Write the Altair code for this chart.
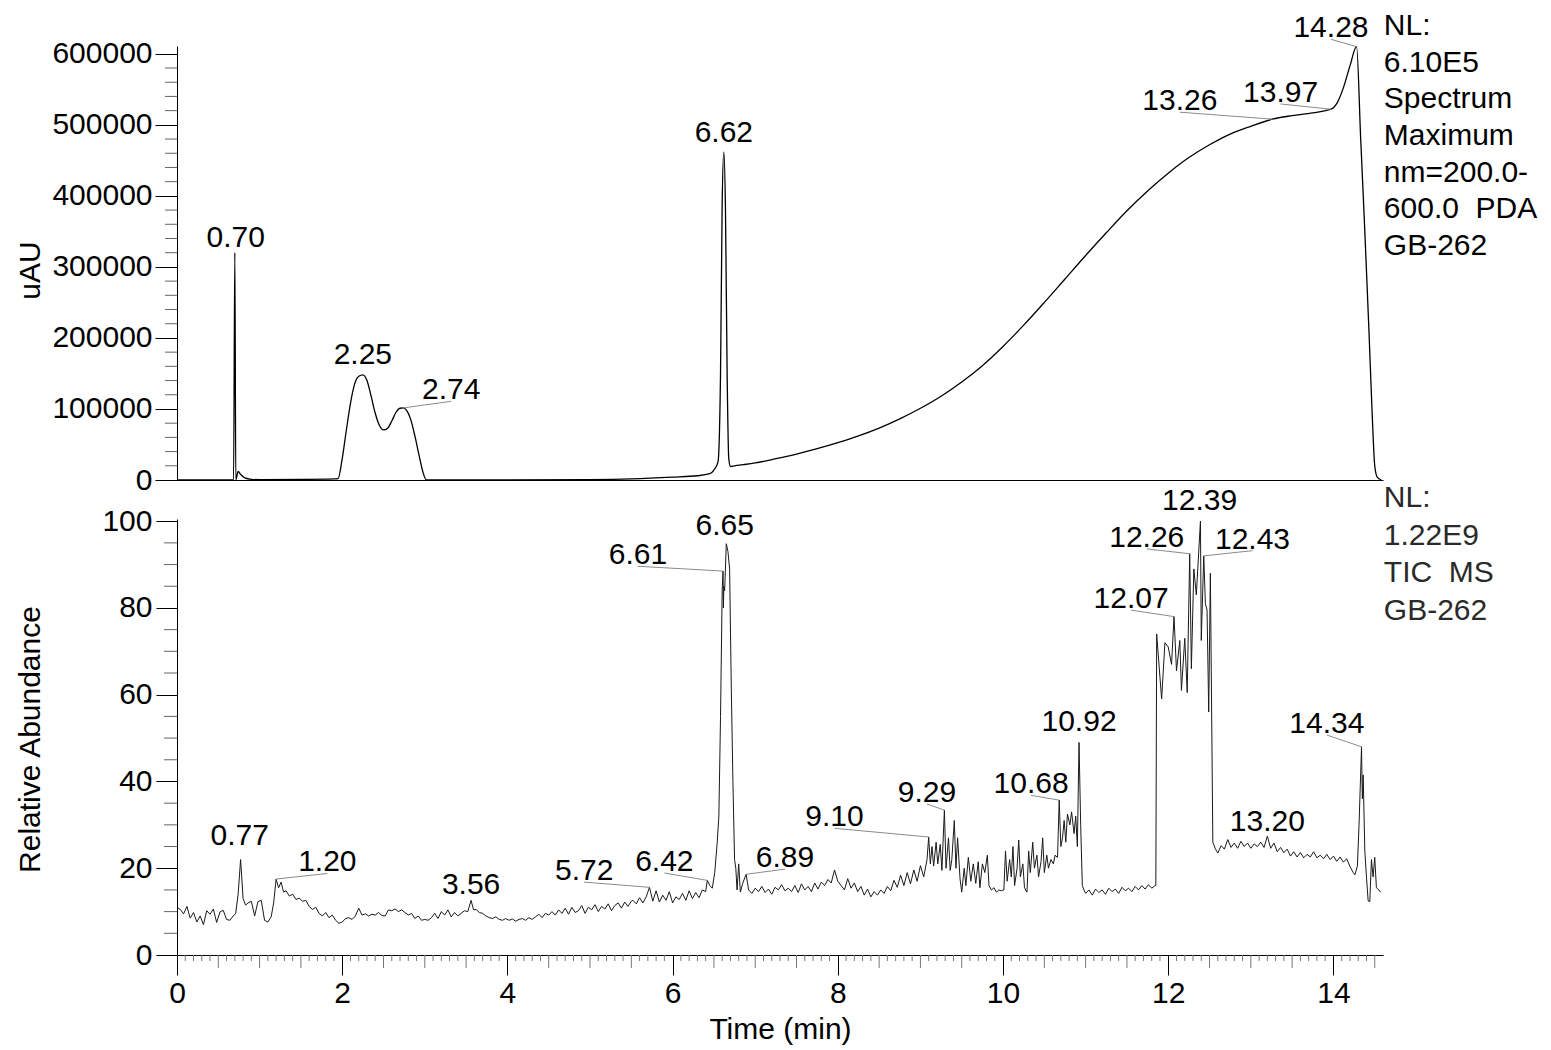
import altair as alt
import pandas as pd

FONT = "Liberation Sans"
FS = 30

# ---------------- PDA trace (top panel) ----------------
pda_time = [0.00, 0.30, 0.60, 0.685, 0.70, 0.712, 0.74, 0.77, 0.82, 0.90, 1.00, 1.50, 1.90, 1.95,
            2.00, 2.05, 2.10, 2.15, 2.20, 2.25, 2.30, 2.35, 2.40, 2.45, 2.50, 2.55, 2.60, 2.65,
            2.70, 2.74, 2.78, 2.83, 2.88, 2.93, 2.98, 3.02, 4.00, 5.00, 5.50, 6.00, 6.30, 6.45,
            6.50, 6.55, 6.58, 6.60, 6.62, 6.64, 6.66, 6.68, 6.70, 6.75, 6.85, 7.00, 7.25, 7.50,
            7.75, 8.00, 8.25, 8.50, 8.75, 9.00, 9.25, 9.50, 9.75, 10.00, 10.25, 10.50,
            10.75, 11.00, 11.25, 11.50, 11.75, 12.00, 12.25, 12.50, 12.75, 13.00, 13.26, 13.50,
            13.75, 13.97, 14.05, 14.12, 14.20, 14.28, 14.33, 14.38, 14.43, 14.47, 14.50, 14.53,
            14.58]
pda_value = [0, 0, 0, 0, 320000, 0, 12000, 8000, 3000, 1000, 500, 800, 1500, 2000,
             30000, 70000, 108000, 135000, 146000, 148000, 140000, 118000, 94000, 77000, 70500,
             73000, 83000, 95000, 101000, 101500, 98000, 85000, 62000, 35000, 10000, 0, 0, 500,
             1500, 4000, 6000, 9000, 14000, 26000, 150000, 390000, 462000, 380000, 150000, 30000,
             19000, 20000, 21500, 24000, 30000, 36500, 44000, 52500, 62000, 73000, 86000, 101000,
             118000, 138000, 161000, 188000, 218000, 250000, 283000, 316000, 348000,
             379000, 407000, 432000, 454000, 472000, 487000, 498000, 508000, 513000, 517000,
             522000, 532000, 552000, 583000, 610000, 480000, 350000, 210000, 90000, 20000, 4000, 0]

# ---------------- TIC trace (bottom panel) ----------------
tic_step = 0.04
tic_seg_start = [0.00, 0.86, 1.32, 2.04, 3.04, 3.62, 4.54, 5.52, 6.92, 8.04, 8.64, 11.00, 12.60]
tic_seg_values = [
    [11.0, 10.5, 9.5, 11.2, 8.5, 9.8, 7.6, 9.0, 7.0, 10.2, 9.4, 10.6, 7.5, 9.9, 10.3, 8.2, 8.0, 9.0],
    [12.0, 12.4, 9.0, 12.3, 12.6, 8.0, 7.6, 8.8],
    [14.8, 13.6, 14.0, 12.8, 13.1, 12.4, 12.6, 11.2, 10.5, 11.0, 9.6, 9.0, 9.8, 8.6, 9.2, 8.0,
     7.3, 7.6],
    [8.4, 8.6, 8.2, 9.0, 10.8, 9.2, 9.5, 9.0, 9.4, 9.2, 9.8, 9.1, 9.0, 10.4, 10.2, 10.6, 10.0,
     10.4, 9.8, 9.2, 9.6, 8.4, 9.0, 8.0, 8.2],
    [8.0, 8.6, 9.6, 8.4, 10.0, 9.2, 10.4, 8.8, 9.8, 9.0, 9.6, 10.2],
    [10.5, 9.8, 9.6, 9.0, 8.6, 8.4, 8.8, 8.2, 8.0, 8.4, 8.0, 8.3, 7.8, 8.2, 8.4, 8.0, 8.6, 8.2,
     8.8, 9.4, 8.6, 9.6, 9.2],
    [10.0, 9.2, 10.4, 9.6, 10.8, 9.4, 11.0, 9.8, 10.2, 11.4, 9.6, 11.0, 10.4, 11.6, 10.0, 11.2,
     10.6, 11.8, 10.2, 11.4, 12.0, 10.8, 12.2, 11.2, 12.4],
    [12.6, 11.8, 13.2, 12.0, 13.4, 15.6, 12.4, 14.8, 12.2, 13.8, 12.6, 14.6, 12.0, 13.4, 12.8,
     14.2, 12.6, 14.8, 13.0, 14.4, 13.2, 15.0, 14.6],
    [15.0, 14.2, 15.4, 14.6, 15.8, 14.4, 15.2, 14.0, 15.6, 15.0, 16.2, 14.8, 15.4, 14.6, 16.0,
     14.4, 16.4, 15.0, 15.8, 14.6, 16.6, 15.2, 16.8, 16.0, 17.4, 16.6, 19.6, 17.0],
    [16.0, 15.0, 17.6, 15.4, 16.6, 14.6, 15.8, 13.8, 15.2, 13.4, 14.6, 13.8, 15.0, 14.2, 15.8],
    [14.8, 17.2, 15.6, 18.4, 16.0, 19.0, 16.4, 19.6, 17.0, 20.6, 18.0, 22.0],
    [14.2, 15.0, 13.8, 15.2, 14.4, 15.0, 14.0, 15.4, 14.6, 15.2, 14.2, 15.6, 14.8, 15.4, 14.6,
     15.8, 15.0, 16.0, 15.2, 16.2, 15.4, 16.0],
    [23.5, 25.2, 24.4, 26.6, 24.8, 25.8, 24.6, 26.2, 25.0, 25.8, 24.6, 25.6, 25.0, 26.0, 24.8,
     27.4, 24.6, 25.8, 23.8, 24.8, 23.6, 24.4, 22.8, 23.8, 22.6, 23.6, 22.4, 23.2, 22.6, 23.8,
     22.4, 23.0, 22.2, 23.2, 22.0, 22.8, 21.6, 22.6, 21.4, 22.2, 20.4, 19.0],
]
tic_peak_time = [0.71, 0.74, 0.77, 0.80, 0.83, 1.17, 1.20, 1.23, 1.26, 1.29, 3.52, 3.56, 3.59,
                 6.42, 6.45, 6.48, 6.51, 6.54, 6.56, 6.58, 6.60, 6.61, 6.615, 6.62, 6.63, 6.65,
                 6.67, 6.69, 6.71, 6.73, 6.75, 6.765, 6.78, 6.80, 6.82, 6.85, 6.89,
                 9.10, 9.12, 9.14, 9.16, 9.19, 9.21, 9.24, 9.26, 9.29, 9.31, 9.34, 9.36, 9.38,
                 9.41, 9.43, 9.45, 9.48, 9.50, 9.53, 9.55, 9.58, 9.61, 9.64, 9.67, 9.70, 9.72,
                 9.75, 9.78, 9.81, 9.83, 9.86, 9.89, 9.92, 9.95, 9.98, 10.01, 10.03, 10.05,
                 10.08, 10.10, 10.12, 10.14, 10.17, 10.19, 10.21, 10.24, 10.26, 10.29, 10.31,
                 10.33, 10.36, 10.38, 10.41, 10.43, 10.46, 10.48, 10.50, 10.53, 10.55, 10.58,
                 10.61, 10.63, 10.66, 10.68, 10.70, 10.72, 10.74, 10.76, 10.78, 10.81, 10.83,
                 10.86, 10.88, 10.90, 10.92, 10.94, 10.96, 10.98,
                 11.85, 11.86, 11.92, 11.96, 12.00, 12.04, 12.07, 12.10, 12.14, 12.16, 12.20,
                 12.23, 12.26, 12.28, 12.31, 12.34, 12.39, 12.40, 12.43, 12.45, 12.47, 12.49,
                 12.51, 12.54, 12.57,
                 14.26, 14.29, 14.31, 14.34, 14.35, 14.36, 14.38, 14.40, 14.42, 14.44, 14.46,
                 14.48, 14.50, 14.52, 14.55, 14.57]
tic_peak_value = [9.5, 14.0, 22.0, 13.0, 11.5, 12.0, 17.5, 15.5, 16.8, 14.5, 10.0, 12.6, 10.4,
                  17.2, 16.0, 15.4, 19.0, 26.0, 32.0, 55.0, 84.0, 88.5, 80.0, 85.0, 84.0, 94.8,
                  93.0, 89.0, 62.0, 40.0, 22.0, 20.0, 15.0, 21.0, 14.5, 16.6, 18.6,
                  27.2, 21.0, 25.0, 20.5, 26.0, 21.0, 25.5, 19.5, 33.4, 20.0, 27.0, 19.5, 22.0,
                  31.0, 20.0, 27.0, 17.5, 14.5, 20.0, 16.0, 22.5, 17.0, 21.0, 16.5, 21.5, 15.5,
                  21.0, 19.0, 23.0, 16.0, 15.0, 15.5, 14.5, 15.0, 14.8, 15.0, 24.0, 17.0,
                  22.0, 18.0, 25.0, 16.0, 20.0, 26.5, 18.0, 21.0, 15.5, 14.5, 24.0,
                  19.0, 26.0, 20.0, 23.0, 18.0, 21.5, 27.0, 19.0, 23.0, 20.0, 22.0,
                  21.0, 23.0, 22.5, 35.7, 25.0, 27.0, 31.0, 26.0, 32.5, 30.0, 33.0,
                  28.0, 32.0, 25.0, 49.0, 30.0, 16.0, 15.0,
                  16.0, 74.0, 59.0, 72.0, 71.0, 67.0, 78.0, 65.5, 72.5, 61.0, 73.0,
                  60.5, 92.5, 66.0, 89.0, 83.0, 100.0, 72.5, 92.0, 81.0, 79.5, 56.0,
                  88.0, 26.0, 24.5,
                  18.5, 20.5, 30.0, 48.0, 36.0, 41.5, 24.0, 18.0, 12.5, 12.3, 22.0,
                  18.0, 22.5, 15.5, 15.0, 14.5]

# ---------------- peak annotations ----------------
top_lab = ["0.70", "2.25", "2.74", "6.62", "13.26", "13.97", "14.28"]
top_lab_t = [0.71, 2.25, 3.32, 6.62, 12.14, 13.36, 13.97]
top_lab_v = [328000, 163000, 113600, 476000, 521000, 532000, 623800]
top_lead_t1 = [2.74, 13.26, 13.97, 14.28]
top_lead_v1 = [101500, 508000, 522000, 610000]
top_lead_t2 = [3.32, 12.14, 13.36, 13.97]
top_lead_v2 = [110800, 517800, 529400, 620500]

bot_lab = ["0.77", "1.20", "3.56", "5.72", "6.42", "6.61", "6.65", "6.89", "9.10", "9.29",
           "10.68", "10.92", "12.07", "12.26", "12.39", "12.43", "13.20", "14.34"]
bot_lab_t = [0.76, 1.82, 3.56, 4.93, 5.90, 5.58, 6.63, 7.36, 7.96, 9.08, 10.34, 10.92, 11.55,
             11.74, 12.38, 13.02, 13.20, 13.92]
bot_lab_v = [25.3, 19.4, 14.1, 17.3, 19.4, 90.1, 96.8, 20.3, 29.7, 35.3, 37.3, 51.6, 80.0,
             94.1, 102.5, 93.7, 28.6, 51.2]
bot_lead_t1 = [1.20, 5.72, 6.42, 6.61, 6.89, 9.10, 9.29, 10.68, 12.07, 12.26, 12.43, 14.34]
bot_lead_v1 = [17.5, 15.6, 17.2, 88.5, 18.6, 27.2, 33.4, 35.7, 78.0, 92.5, 92.0, 48.0]
bot_lead_t2 = [1.82, 4.93, 5.90, 5.58, 7.36, 7.96, 9.08, 10.34, 11.55, 11.74, 13.02, 13.92]
bot_lead_v2 = [18.8, 16.8, 18.9, 89.6, 19.8, 29.2, 34.8, 36.8, 79.5, 93.6, 93.2, 50.7]

top_info = "NL:\n6.10E5\nSpectrum\nMaximum\nnm=200.0-\n600.0\u00a0\u00a0PDA\nGB-262"
bot_info = "NL:\n1.22E9\nTIC\u00a0\u00a0MS\nGB-262"
info_t = 14.61
top_info_v = 626600
bot_info_v = 103.2

# ---------------- axis tick values ----------------
x_major = [0, 2, 4, 6, 8, 10, 12, 14]
x_tenths = [round(i * 0.1, 1) for i in range(1, 146)]
x_mid = [v for v in x_tenths if round(v * 10) % 5 == 0 and round(v * 10) % 20 != 0]
x_minor = [v for v in x_tenths if round(v * 10) % 5 != 0]
top_y_major = [0, 100000, 200000, 300000, 400000, 500000, 600000]
top_y_minor = [v for v in range(20000, 600001, 20000) if v % 100000 != 0]
bot_y_major = [0, 20, 40, 60, 80, 100]
bot_y_minor = [v for v in range(5, 100, 5) if v % 20 != 0]

# ---------------- build tables ----------------
tic_t, tic_v = [], []
for s, vals in zip(tic_seg_start, tic_seg_values):
    for i, v in enumerate(vals):
        tic_t.append(round(s + i * tic_step, 3))
        tic_v.append(v)
tic_t += tic_peak_time
tic_v += tic_peak_value
tic_df = pd.DataFrame({"time": tic_t, "value": tic_v}).sort_values("time")
pda_df = pd.DataFrame({"time": pda_time, "value": pda_value})

W = 1206
H_TOP = 434
H_BOT = 436

xs = alt.Scale(domain=[0, 14.6], nice=False, zero=False)
ys_top = alt.Scale(domain=[0, 611000], nice=False)
ys_bot = alt.Scale(domain=[0, 100.5], nice=False)

ax_common = dict(labelFont=FONT, labelFontSize=FS, labelColor="black", titleFont=FONT,
                 titleFontSize=FS, titleColor="black", titleFontWeight="normal",
                 domainColor="black", domainWidth=1, tickColor="black", tickWidth=1, grid=False,
                 labelFlush=False)

top_x_axis = alt.Axis(labels=False, ticks=False, title=None, domain=True,
                      domainColor="black", domainWidth=1, grid=False)
top_y_axis = alt.Axis(values=top_y_major, format="d", tickSize=22, labelPadding=3,
                      title="uAU", titleAngle=270, titleBaseline="alphabetic",
                      titleAlign="center", titleX=-138, titleY=224, **ax_common)
bot_x_axis = alt.Axis(values=x_major, format="d", tickSize=20, labelPadding=3,
                      labelOverlap=False, title="Time (min)", titleBaseline="alphabetic",
                      titleAlign="center", titleX=W / 2, titleY=83, **ax_common)
bot_y_axis = alt.Axis(values=bot_y_major, format="d", tickSize=21, labelPadding=4,
                      title="Relative Abundance", titleAngle=270, titleBaseline="alphabetic",
                      titleAlign="center", titleX=-138, titleY=220, **ax_common)


def text_layer(df, scale_y, xaxis, yaxis, **kw):
    return alt.Chart(df).mark_text(font=FONT, fontSize=FS, color="black",
                                   baseline="alphabetic", **kw).encode(
        x=alt.X("t:Q", scale=xs, axis=xaxis),
        y=alt.Y("v:Q", scale=scale_y, axis=yaxis),
        text="label:N")


def lead_layer(t1, v1, t2, v2, scale_y, xaxis, yaxis):
    df = pd.DataFrame({"t1": t1, "v1": v1, "t2": t2, "v2": v2})
    return alt.Chart(df).mark_rule(color="#8a8a8a", strokeWidth=1).encode(
        x=alt.X("t1:Q", scale=xs, axis=xaxis), y=alt.Y("v1:Q", scale=scale_y, axis=yaxis),
        x2="t2:Q", y2="v2:Q")


def ytick_layer(vals, scale_y, length, yaxis):
    return alt.Chart(pd.DataFrame({"tick": vals})).mark_rule(color="#666666", strokeWidth=1).encode(
        y=alt.Y("tick:Q", scale=scale_y, axis=yaxis), x=alt.value(0), x2=alt.value(-length))


def xtick_layer(vals, length, h, xaxis):
    return alt.Chart(pd.DataFrame({"tick": vals})).mark_rule(color="#777777", strokeWidth=1).encode(
        x=alt.X("tick:Q", scale=xs, axis=xaxis), y=alt.value(h), y2=alt.value(h + length))


# ---------------- top panel ----------------
top_line = alt.Chart(pda_df).mark_line(color="black", strokeWidth=1.3, interpolate="monotone").encode(
    x=alt.X("time:Q", scale=xs, axis=top_x_axis),
    y=alt.Y("value:Q", scale=ys_top, axis=top_y_axis))
top_labels = text_layer(pd.DataFrame({"t": top_lab_t, "v": top_lab_v, "label": top_lab}),
                        ys_top, top_x_axis, top_y_axis, align="center")
top_info_layer = alt.Chart(pd.DataFrame({"t": [info_t], "v": [top_info_v], "label": [top_info]})).mark_text(
    font=FONT, fontSize=FS, color="black", align="left", baseline="alphabetic",
    lineBreak="\n", lineHeight=36.7).encode(
    x=alt.X("t:Q", scale=xs, axis=top_x_axis), y=alt.Y("v:Q", scale=ys_top, axis=top_y_axis),
    text="label:N")

top = alt.layer(
    top_line,
    ytick_layer(top_y_minor, ys_top, 12, top_y_axis),
    lead_layer(top_lead_t1, top_lead_v1, top_lead_t2, top_lead_v2, ys_top, top_x_axis, top_y_axis),
    top_labels,
    top_info_layer,
).properties(width=W, height=H_TOP)

# ---------------- bottom panel ----------------
bot_line = alt.Chart(tic_df).mark_line(color="#1a1a1a", strokeWidth=1).encode(
    x=alt.X("time:Q", scale=xs, axis=bot_x_axis),
    y=alt.Y("value:Q", scale=ys_bot, axis=bot_y_axis))
bot_labels = text_layer(pd.DataFrame({"t": bot_lab_t, "v": bot_lab_v, "label": bot_lab}),
                        ys_bot, bot_x_axis, bot_y_axis, align="center")
bot_info_layer = alt.Chart(pd.DataFrame({"t": [info_t], "v": [bot_info_v], "label": [bot_info]})).mark_text(
    font=FONT, fontSize=FS, color="#2a2a2a", align="left", baseline="alphabetic",
    lineBreak="\n", lineHeight=37.5).encode(
    x=alt.X("t:Q", scale=xs, axis=bot_x_axis), y=alt.Y("v:Q", scale=ys_bot, axis=bot_y_axis),
    text="label:N")

bottom = alt.layer(
    bot_line,
    ytick_layer(bot_y_minor, ys_bot, 13, bot_y_axis),
    xtick_layer(x_minor, 6, H_BOT, bot_x_axis),
    xtick_layer(x_mid, 13, H_BOT, bot_x_axis),
    lead_layer(bot_lead_t1, bot_lead_v1, bot_lead_t2, bot_lead_v2, ys_bot, bot_x_axis, bot_y_axis),
    bot_labels,
    bot_info_layer,
).properties(width=W, height=H_BOT)

chart = alt.vconcat(top, bottom, spacing=39, bounds="flush").properties(
    padding={"left": 7, "top": 2, "right": 5, "bottom": 5},
    background="white",
).configure_view(stroke=None)

chart.save("out.html", embed_options={"renderer": "svg", "actions": False})
